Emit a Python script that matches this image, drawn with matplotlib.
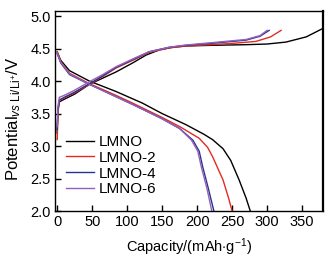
import matplotlib
matplotlib.use("Agg")
import matplotlib.pyplot as plt

plt.rcParams['font.family'] = ['Liberation Sans', 'DejaVu Sans']
plt.rcParams['mathtext.fontset'] = 'custom'
plt.rcParams['mathtext.rm'] = 'Liberation Sans'
plt.rcParams['mathtext.it'] = 'Liberation Sans:italic'

names = ["LMNO", "LMNO-2", "LMNO-4", "LMNO-6"]
colors = ["black", "#e32b22", "#27338f", "#9460b8"]

# charge curves (capacity, voltage)
chg_cap = [
    [0, 1, 3, 10, 25, 46, 70, 84, 108, 127, 146, 165, 184, 220, 270, 300, 327, 356, 378],
    [0, 1, 3, 10, 25, 46, 65, 84, 112, 131, 160, 184, 220, 250, 284, 305, 320],
    [0, 1, 3, 10, 25, 46, 65, 84, 112, 131, 160, 184, 220, 270, 290, 303],
    [0, 1, 3, 10, 25, 46, 65, 84, 112, 131, 160, 184, 220, 270, 290, 300],
]
chg_v = [
    [3.2, 3.55, 3.68, 3.72, 3.8, 3.95, 4.07, 4.14, 4.28, 4.40, 4.48, 4.52, 4.54, 4.55, 4.56, 4.57, 4.60, 4.68, 4.80],
    [3.1, 3.5, 3.7, 3.74, 3.82, 3.95, 4.07, 4.20, 4.34, 4.44, 4.51, 4.54, 4.56, 4.58, 4.61, 4.68, 4.78],
    [3.25, 3.55, 3.71, 3.75, 3.83, 3.96, 4.08, 4.21, 4.35, 4.45, 4.52, 4.55, 4.58, 4.63, 4.69, 4.78],
    [3.3, 3.6, 3.75, 3.78, 3.86, 3.99, 4.10, 4.22, 4.36, 4.45, 4.52, 4.555, 4.59, 4.64, 4.70, 4.78],
]

# discharge curves
dis_cap = [
    [0, 5, 17.6, 30, 46, 84, 122, 150, 184, 210, 222, 237, 248, 260, 270, 276],
    [0, 5, 17.6, 46, 84, 108, 150, 175, 203, 215, 222, 237, 245, 250],
    [0, 5, 17.6, 46, 84, 108, 150, 175, 194, 203, 208, 216, 224],
    [0, 5, 17.6, 46, 84, 108, 150, 175, 192, 201, 206, 214, 221],
]
dis_v = [
    [4.45, 4.32, 4.16, 4.09, 4.0, 3.84, 3.66, 3.50, 3.33, 3.18, 3.10, 2.96, 2.78, 2.48, 2.2, 2.0],
    [4.45, 4.30, 4.12, 3.96, 3.78, 3.66, 3.44, 3.30, 3.12, 2.98, 2.84, 2.48, 2.2, 2.0],
    [4.42, 4.28, 4.10, 3.95, 3.76, 3.64, 3.42, 3.27, 3.09, 2.92, 2.68, 2.35, 2.0],
    [4.43, 4.29, 4.11, 3.95, 3.76, 3.64, 3.42, 3.27, 3.09, 2.92, 2.68, 2.35, 2.0],
]

fig = plt.figure(figsize=(3.32, 2.59), dpi=100)
ax = fig.add_axes([0.166, 0.185, 0.807, 0.773])

for i in range(len(names)):
    ax.plot(chg_cap[i], chg_v[i], color=colors[i], lw=1.0, label=names[i])
    ax.plot(dis_cap[i], dis_v[i], color=colors[i], lw=1.0)

ax.set_xlim(-3, 380)
ax.set_ylim(2.0, 5.08)
ax.set_xticks([0, 50, 100, 150, 200, 250, 300, 350])
ax.set_yticks([2.0, 2.5, 3.0, 3.5, 4.0, 4.5, 5.0])
ax.set_yticklabels(["2.0", "2.5", "3.0", "3.5", "4.0", "4.5", "5.0"])
ax.tick_params(direction='in', length=4, width=1, labelsize=10.5, pad=3)
for s in ax.spines.values():
    s.set_linewidth(1.0)
ax.spines['right'].set_linewidth(1.6)

ax.set_xlabel(r"Capacity/(mAh$\cdot$g$^{-1}$)", fontsize=10.5, labelpad=5)
ax.set_ylabel(r"Potential$_{\mathit{vs}\ \mathrm{Li/Li^{+}}}$/V", fontsize=12)
ax.yaxis.set_label_coords(-0.12, 0.46)

ax.legend(loc='lower left', bbox_to_anchor=(0.0, 0.02), frameon=False, fontsize=11,
          handlelength=1.85, handletextpad=0.3, labelspacing=0.12, borderaxespad=0.3)

fig.savefig("out.png", dpi=100)
